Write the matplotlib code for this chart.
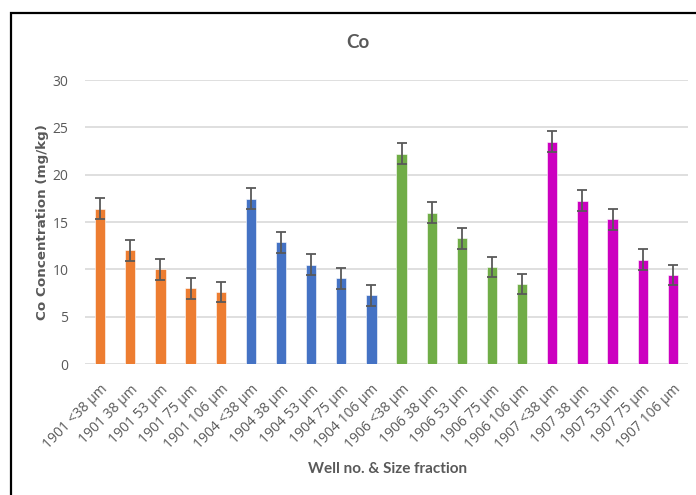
import matplotlib
matplotlib.use("Agg")
import matplotlib.pyplot as plt
from matplotlib import font_manager
from matplotlib.patches import Rectangle

# Sample labels and measured Co concentrations (mg/kg)
categories = [
    "1901 <38 µm", "1901 38 µm", "1901 53 µm", "1901 75 µm", "1901 106 µm",
    "1904 <38 µm", "1904 38 µm", "1904 53 µm", "1904 75 µm", "1904 106 µm",
    "1906 <38 µm", "1906 38 µm", "1906 53 µm", "1906 75 µm", "1906 106 µm",
    "1907 <38 µm", "1907 38 µm", "1907 53 µm", "1907 75 µm", "1907 106 µm",
]
values = [16.4, 12.0, 10.0, 8.0, 7.6,
          17.45, 12.86, 10.5, 9.05, 7.24,
          22.2, 15.97, 13.3, 10.25, 8.45,
          23.5, 17.24, 15.3, 11.0, 9.4]
errors = [1.1] * 20
well_colors = ["#ED7D31", "#4472C4", "#70AD47", "#CC00C0"]
yticks = [0, 5, 10, 15, 20, 25, 30]

gray = "#595959"
bar_colors = [well_colors[i // 5] for i in range(len(values))]

# condensed face for title / axis caption, if present
installed = {f.name for f in font_manager.fontManager.ttflist}
narrow = "Liberation Sans Narrow" if "Liberation Sans Narrow" in installed else "Lato"
narrow_size = 12 if narrow == "Liberation Sans Narrow" else 11

fig = plt.figure(figsize=(6.96, 4.95), dpi=100)
fig.patches.append(Rectangle((11 / 696, -0.1), 1.2, 1 - 13 / 495 + 0.1,
                             transform=fig.transFigure, fill=False,
                             edgecolor="black", linewidth=1.6))

ax = fig.add_axes([85 / 696, 1 - 364 / 495, (688 - 85) / 696, (364 - 80) / 495])
x = list(range(len(values)))
ax.bar(x, values, width=0.34, color=bar_colors, edgecolor="white",
       linewidth=0.4, zorder=3)
ax.errorbar(x, values, yerr=errors, fmt="none", ecolor=gray,
            elinewidth=1.3, capsize=3.5, capthick=1.3, zorder=4)

ax.set_xlim(-0.5, len(values) - 0.5)
ax.set_ylim(0, 30)
ax.set_yticks(yticks)
ax.yaxis.grid(True, color="#D9D9D9", linewidth=1.2, zorder=0)
ax.set_axisbelow(True)
for s in ax.spines.values():
    s.set_visible(False)
ax.tick_params(axis="both", length=0, colors=gray, labelsize=10)
ax.tick_params(axis="y", pad=12)
ax.tick_params(axis="x", pad=13)
ax.set_xticks(x)
ax.set_xticklabels(categories, rotation=45, ha="right", rotation_mode="anchor",
                   fontsize=10, family="Open Sans", color=gray)
for lbl in ax.get_yticklabels():
    lbl.set_family("Open Sans")

ax.set_ylabel("Co Concentration (mg/kg)", fontsize=9.7, fontweight="bold",
              color=gray, family="DejaVu Sans", va="center")
ax.yaxis.set_label_coords((43 - 85) / 603, 0.5)
fig.text(388 / 696, 1 - 469 / 495, "Well no. & Size fraction", ha="center",
         va="center", fontsize=narrow_size, fontweight="bold", color=gray,
         family=narrow)
fig.text(358 / 696, 1 - 43 / 495, "Co", ha="center", va="center",
         fontsize=narrow_size + 2.5, fontweight="bold", color=gray,
         family=narrow)

fig.savefig("out.png", dpi=100)
